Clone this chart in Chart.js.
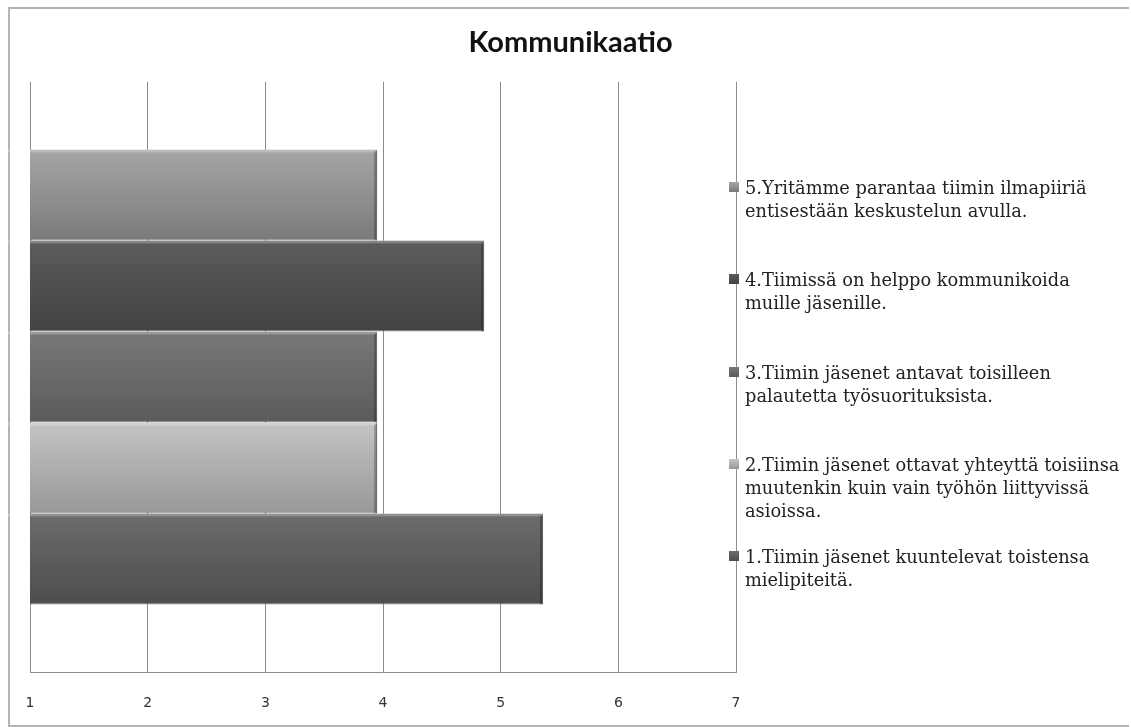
<!DOCTYPE html>
<html>
<head>
<meta charset="utf-8">
<script src="https://cdn.jsdelivr.net/npm/chart.js@4.4.1/dist/chart.umd.min.js"></script>
<style>
    body { margin: 0; background: #ffffff; }
    #quadro { position: absolute; left: 8px; top: 7px; width: 1119px; height: 716px; border: 2px solid #b4b4b4; border-right: none; }
    #caixa { position: absolute; left: 0; top: 0; width: 1131px; height: 727px; }
    #legenda { position: absolute; left: 729px; top: 176px; font-family: "DejaVu Serif", serif; font-size: 17.8px; color: #222; }
    .item { position: relative; height: 92.3px; line-height: 23px; white-space: nowrap; padding-left: 16px; }
    .cor { position: absolute; left: 0; top: 6px; width: 10px; height: 10px; }
</style>
</head>
<body>
<div id="quadro"></div>
<div id="caixa"><canvas id="myChart" width="1131" height="727"></canvas></div>
<div id="legenda"></div>
<script>
    // dados (escala 1 a 7), de cima para baixo
    const perguntas = [
        ['5.Yritämme parantaa tiimin ilmapiiriä', 'entisestään keskustelun avulla.'],
        ['4.Tiimissä on helppo kommunikoida', 'muille jäsenille.'],
        ['3.Tiimin jäsenet antavat toisilleen', 'palautetta työsuorituksista.'],
        ['2.Tiimin jäsenet ottavat yhteyttä toisiinsa', 'muutenkin kuin vain työhön liittyvissä', 'asioissa.'],
        ['1.Tiimin jäsenet kuuntelevat toistensa', 'mielipiteitä.']
    ];
    const medias = [3.95, 4.86, 3.95, 3.95, 5.36];
    const ticksEixo = [1, 2, 3, 4, 5, 6, 7];

    const coresTopo = ['#a6a6a6', '#5c5c5c', '#787878', '#c4c4c4', '#6c6c6c'];
    const coresBase = ['#7a7a7a', '#434343', '#5b5b5b', '#989898', '#4d4d4d'];

    // legenda em html (o texto quebra em linhas como no original)
    const legenda = document.getElementById('legenda');
    for (let i = 0; i < perguntas.length; i++) {
        const item = document.createElement('div');
        item.className = 'item';
        const cor = document.createElement('span');
        cor.className = 'cor';
        cor.style.background = `linear-gradient(${coresTopo[i]}, ${coresBase[i]})`;
        item.appendChild(cor);
        item.innerHTML += perguntas[i].join('<br>');
        legenda.appendChild(item);
    }

    // gradiente vertical de cada barra
    const gradientePlugin = {
        id: 'gradiente',
        beforeDatasetsDraw(chart) {
            const ctx = chart.ctx;
            chart.data.datasets.forEach(function (ds, i) {
                chart.getDatasetMeta(i).data.forEach(function (barra) {
                    const topo = barra.y - barra.height / 2;
                    const g = ctx.createLinearGradient(0, topo, 0, topo + barra.height);
                    g.addColorStop(0, coresTopo[i]);
                    g.addColorStop(1, coresBase[i]);
                    barra.options.backgroundColor = g;
                });
            });
        },
        afterDatasetsDraw(chart) {
            const ctx = chart.ctx;
            ctx.save();
            chart.data.datasets.forEach(function (ds, i) {
                chart.getDatasetMeta(i).data.forEach(function (barra) {
                    const topo = barra.y - barra.height / 2;
                    // brilho no topo
                    ctx.fillStyle = 'rgba(255,255,255,0.25)';
                    ctx.fillRect(barra.base + 1, topo, barra.x - barra.base - 2, 3);
                    // sombra na ponta
                    ctx.fillStyle = 'rgba(0,0,0,0.25)';
                    ctx.fillRect(barra.x - 3, topo + 2, 3, barra.height - 2);
                });
            });
            ctx.restore();
        }
    };

    const dados = {
        labels: [''],
        datasets: perguntas.map(function (p, i) {
            return {
                label: p.join(' '),
                data: [medias[i]],
                backgroundColor: coresBase[i],
                borderColor: 'rgba(40,40,40,0.6)',
                borderWidth: { top: 0, right: 1, bottom: 1, left: 0 },
                borderSkipped: false,
                categoryPercentage: 0.771,
                barPercentage: 1.0
            };
        })
    };

    const config = {
        type: 'bar',
        data: dados,
        options: {
            indexAxis: 'y',
            responsive: false,
            animation: false,
            layout: { padding: { top: 25, left: 10, right: 0, bottom: 15 } },
            plugins: {
                legend: { display: false },
                tooltip: { enabled: false },
                title: {
                    display: true,
                    text: 'Kommunikaatio',
                    color: '#111',
                    font: { family: 'Lato', size: 29, weight: 'bold' },
                    padding: { top: 0, bottom: 22 }
                }
            },
            scales: {
                x: {
                    type: 'linear',
                    min: ticksEixo[0],
                    max: ticksEixo[ticksEixo.length - 1],
                    afterBuildTicks: function (eixo) {
                        eixo.ticks = ticksEixo.map(function (v) { return { value: v }; });
                    },
                    afterFit: function (eixo) { eixo.height = 40; },
                    grid: { color: '#8c8c8c', drawTicks: false },
                    border: { color: '#8c8c8c' },
                    ticks: {
                        padding: 23,
                        color: '#333',
                        font: { family: 'DejaVu Sans', size: 14 }
                    }
                },
                // eixo y invisivel do lado direito, so para reservar o espaco da legenda
                y: {
                    position: 'right',
                    grid: { display: false },
                    border: { display: false },
                    ticks: { display: false },
                    afterFit: function (eixo) { eixo.width = 395; }
                },
                // margem da esquerda
                yEsquerda: {
                    type: 'category',
                    position: 'left',
                    grid: { display: false },
                    border: { display: false },
                    ticks: { display: false },
                    afterFit: function (eixo) { eixo.width = 20; }
                }
            }
        },
        plugins: [gradientePlugin]
    };

    const myChart = new Chart(document.getElementById('myChart'), config);
</script>
</body>
</html>
